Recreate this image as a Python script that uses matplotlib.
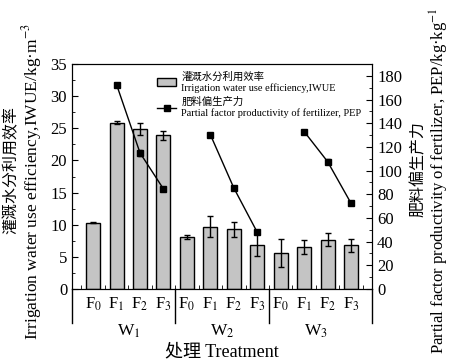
import numpy as np
import matplotlib
matplotlib.use("Agg")
import matplotlib.pyplot as plt
from matplotlib.ticker import MultipleLocator, FixedLocator

plt.rcParams['font.family'] = ['Liberation Serif', 'Noto Sans CJK SC']
plt.rcParams['mathtext.fontset'] = 'stix'

# data
groups = ['W$_1$', 'W$_2$', 'W$_3$']
treat = ['F$_0$', 'F$_1$', 'F$_2$', 'F$_3$']
iwue = [10.3, 25.9, 24.9, 23.9, 8.1, 9.7, 9.3, 6.9, 5.6, 6.6, 7.7, 6.8]
iwue_err = [0.1, 0.3, 1.0, 0.7, 0.3, 1.6, 1.2, 1.8, 2.2, 1.1, 1.0, 1.0]
pep = [172.7, 115.0, 84.5, 130.4, 85.4, 47.9, 133.0, 107.6, 72.4]
pep_err = [0.8, 2.5, 0.8, 0.6, 0.6, 1.5, 0.6, 2.0, 0.6]

x = np.arange(len(iwue))
pep_x = [1, 2, 3, 5, 6, 7, 9, 10, 11]

fig = plt.figure(figsize=(4.5, 3.62), dpi=100)
ax = fig.add_axes([0.16, 0.2017, 0.667, 0.6213])

bars = ax.bar(x, iwue, width=0.6, color='#c4c4c4', edgecolor='black', linewidth=1.0,
              yerr=iwue_err, error_kw=dict(ecolor='black', elinewidth=1.0, capsize=2.5, capthick=1.0),
              zorder=2)
ax.set_xlim(-0.9, 11.9)
ax.set_ylim(0, 35)
ax.yaxis.set_major_locator(MultipleLocator(5))
ax.yaxis.set_minor_locator(MultipleLocator(2.5))
ax.set_xticks(x)
ax.set_xticklabels(treat * 3, fontsize=12)
ax.xaxis.set_minor_locator(FixedLocator(np.arange(-0.5, 12, 1)))
ax.tick_params(axis='x', which='major', length=0, pad=5)
ax.tick_params(axis='x', which='minor', direction='in', length=3)
ax.tick_params(axis='y', which='both', direction='in', labelsize=12)
ax.tick_params(axis='y', which='major', length=4)
ax.tick_params(axis='y', which='minor', length=2)

ax2 = ax.twinx()
line, = ax2.plot([], [], color='black', lw=1, marker='s', ms=4.5)
for g in range(3):
    xs = pep_x[g * 3:(g + 1) * 3]
    ys = pep[g * 3:(g + 1) * 3]
    es = pep_err[g * 3:(g + 1) * 3]
    ax2.errorbar(xs, ys, yerr=es, color='black', lw=1, marker='s', ms=4.5,
                 capsize=1.5, elinewidth=1)
ax2.set_ylim(0, 190)
ax2.yaxis.set_major_locator(MultipleLocator(20))
ax2.yaxis.set_minor_locator(MultipleLocator(10))
ax2.tick_params(axis='y', which='both', direction='in', labelsize=12)
ax2.tick_params(axis='y', which='major', length=4)
ax2.tick_params(axis='y', which='minor', length=2)

# axis titles, Chinese and English lines placed separately
fig.text(12 / 450, 1 - 170 / 362, '灌溉水分利用效率', rotation=90, ha='center', va='center', fontsize=11.5)
fig.text(32 / 450, 1 - 182 / 362, 'Irrigation water use efficiency,IWUE/kg·m$^{-3}$',
         rotation=90, ha='center', va='center', fontsize=12.5)
fig.text(419 / 450, 1 - 169 / 362, '肥料偏生产力', rotation=90, ha='center', va='center', fontsize=11.5)
fig.text(439 / 450, 1 - 181 / 362, 'Partial factor productivity of fertilizer, PEP/kg·kg$^{-1}$',
         rotation=90, ha='center', va='center', fontsize=12)

# group separators and extended side lines under the axis
tr = ax.get_xaxis_transform()
for sx in (3.5, 7.5):
    ax.plot([sx, sx], [0, -0.152], transform=tr, color='black', lw=1, clip_on=False)
for sx in (0, 1):
    ax.plot([sx, sx], [0, -0.152], transform=ax.transAxes, color='black', lw=1, clip_on=False)
for i, g in enumerate(groups):
    ax.text(1.5 + 4 * i, -0.19, g, transform=tr, ha='center', va='center', fontsize=12.5)
ax.text(0.5, -0.28, '处理 Treatment', transform=ax.transAxes, ha='center', va='center', fontsize=13)

leg = ax2.legend([bars, line],
                 ['灌溉水分利用效率\nIrrigation water use efficiency,IWUE',
                  '肥料偏生产力\nPartial factor productivity of fertilizer, PEP'],
                 loc='upper left', bbox_to_anchor=(0.26, 1.0), frameon=False,
                 fontsize=7.5, handlelength=1.8, handletextpad=0.5, labelspacing=0.4,
                 borderaxespad=0.3)

fig.savefig('out.png', dpi=100)
